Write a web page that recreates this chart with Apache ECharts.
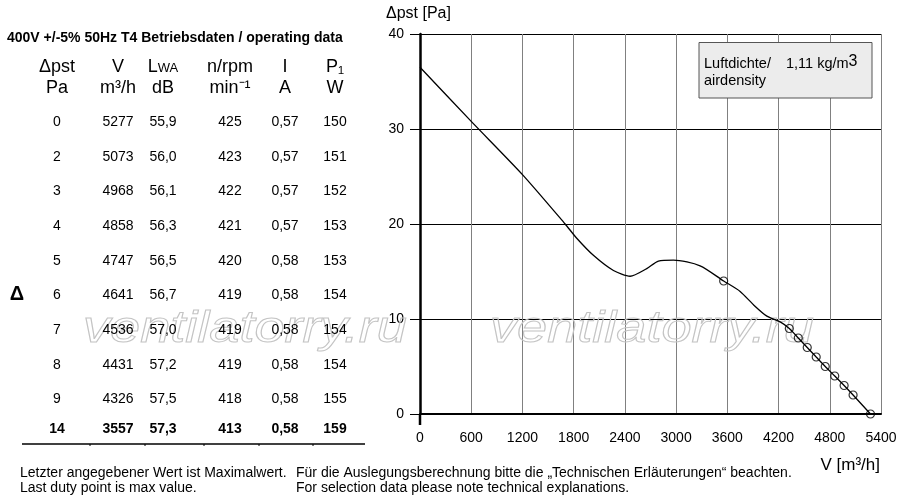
<!DOCTYPE html>
<html><head><meta charset="utf-8">
<script src="https://cdn.jsdelivr.net/npm/echarts@6/dist/echarts.min.js"></script>
<style>html,body{margin:0;padding:0;background:#fff}#c{width:900px;height:500px}</style>
</head><body><div id="c"></div>
<script>
// ---- data ----
const dpst  = [0, 2, 3, 4, 5, 6, 7, 8, 9, 14];
const flow  = [5277, 5073, 4968, 4858, 4747, 4641, 4536, 4431, 4326, 3557];
const lwa   = ['55,9','56,0','56,1','56,3','56,5','56,7','57,0','57,2','57,5','57,3'];
const rpm   = [425, 423, 422, 421, 420, 419, 419, 419, 418, 413];
const amps  = ['0,57','0,57','0,57','0,57','0,58','0,58','0,58','0,58','0,58','0,58'];
const power = [150, 151, 152, 153, 153, 154, 154, 154, 155, 159];

const curveV = [0, 600, 1200, 1700, 1836, 2031, 2266, 2461, 2656, 2793, 2969, 3281, 3557, 3750, 3906, 4063, 4219, 4326, 4431, 4536, 4641, 4747, 4858, 4968, 5073, 5277];
const curveP = [36.5, 30.8, 25.2, 20.0, 18.5, 16.7, 15.1, 14.5, 15.3, 16.1, 16.2, 15.6, 14.0, 12.9, 11.5, 10.3, 9.7, 9, 8, 7, 6, 5, 4, 3, 2, 0];

const titleText = '400V +/-5% 50Hz T4 Betriebsdaten / operating data';
const head1 = ['Δpst', 'V', '{l|L}{s|WA}', 'n/rpm', 'I', 'P₁'];
const head2 = ['Pa', 'm³/h', 'dB', 'min⁻¹', 'A', 'W'];
const foot = [
  ['Letzter angegebener Wert ist Maximalwert.', 'Für die Auslegungsberechnung bitte die „Technischen Erläuterungen“ beachten.'],
  ['Last duty point is max value.', 'For selection data please note technical explanations.']
];
const densityText = ['Luftdichte/', '1,11 kg/m{sup|3}', 'airdensity'];
const yTitle = 'Δpst [Pa]';
const xTitle = 'V [m³/h]';

// ---- layout ----
const FF = '"Liberation Sans", Arial, Helvetica, sans-serif';
const colX = [57, 118, 163, 230, 285, 335];
const rowY = i => i < 9 ? 122 + i * 34.7 : 429;

const g = [];
function txt(s, x, y, size, opt) {
  opt = opt || {};
  g.push({type:'text', z: 10, style:Object.assign({text:s, x:x, y:y, fill:'#000',
    font:(opt.bold?'bold ':'') + size + 'px ' + FF, align: opt.align || 'center', verticalAlign:'middle'}, opt.extra || {})});
}
txt(titleText, 7, 38, 14, {bold:true, align:'left'});
head1.forEach((h, i) => txt(h, colX[i], 67, 18, {extra: i === 2 ? {rich:{l:{fontSize:18, fontFamily:FF}, s:{fontSize:13, fontFamily:FF, padding:[3,0,0,0]}}} : {}}));
head2.forEach((h, i) => txt(h, colX[i], 88, 18));
dpst.forEach((d, i) => {
  const b = i === dpst.length - 1;
  [d, flow[i], lwa[i], rpm[i], amps[i], power[i]].forEach((v, j) => txt(String(v), colX[j], rowY(i), 14, {bold:b}));
});
txt('Δ', 17, 294, 20, {bold:true});
g.push({type:'line', shape:{x1:22, y1:444, x2:365, y2:444}, style:{stroke:'#000', lineWidth:1.5}});
[90, 145, 204, 259, 313].forEach(x => g.push({type:'line', shape:{x1:x, y1:444, x2:x, y2:446}, style:{stroke:'#000', lineWidth:1}}));
txt(foot[0][0], 20, 473, 14, {align:'left'});
txt(foot[0][1], 296, 473, 14, {align:'left'});
txt(foot[1][0], 20, 488, 14, {align:'left'});
txt(foot[1][1], 296, 488, 14, {align:'left'});
// axis titles
txt(yTitle, 386, 14, 16, {align:'left'});
txt(xTitle, 880, 465, 17, {align:'right'});
// density box
g.push({type:'rect', z: 9, shape:{x:699, y:42.5, width:173, height:55.5}, style:{fill:'#ececec', stroke:'#555', lineWidth:1}});
txt(densityText[0], 704, 64, 14.5, {align:'left'});
txt(densityText[1], 786, 64, 14.5, {align:'left', extra:{rich:{sup:{fontSize:16, fontFamily:FF, padding:[0,0,5,0]}}}});
txt(densityText[2], 704, 81, 14.5, {align:'left'});
// watermark
[83, 490].forEach(x => g.push({type:'text', z: 1, x:x, y:330, scaleX:1.23,
  style:{text:'ventilatorry.ru', x:0, y:0, font:'italic 44px ' + FF, fill:'rgba(0,0,0,0)', stroke:'#c4c4c4', lineWidth:1, align:'left', verticalAlign:'middle'}}));

const chart = echarts.init(document.getElementById('c'), null, {renderer:'canvas'});
const option = {
  animation:false,
  backgroundColor:'#fff',
  grid:{left:420, top:34, right:19, bottom:86, containLabel:false},
  xAxis:{type:'value', min:0, max:5400, interval:600,
    axisLine:{show:true, onZero:false, lineStyle:{color:'#000', width:2}},
    axisTick:{show:false},
    axisLabel:{color:'#000', fontSize:14, fontFamily:FF, margin:17, formatter: v => String(v)},
    splitLine:{show:true, lineStyle:{color:'#808080', width:1}}},
  yAxis:{type:'value', min:0, max:40, interval:10,
    axisLine:{show:true, onZero:false, lineStyle:{color:'#000', width:2.5}},
    axisTick:{show:true, length:10, lineStyle:{color:'#000', width:1}},
    axisLabel:{color:'#000', fontSize:14, fontFamily:FF, margin:16, formatter: v => String(v)},
    splitLine:{show:true, lineStyle:{color:'#000', width:1}}},
  graphic:g,
  series:[
    {type:'line', data:curveV.map((v, i) => [v, curveP[i]]), smooth:0.25, symbol:'none',
     lineStyle:{color:'#000', width:1.3}, z:5},
    {type:'scatter', data:flow.map((v, i) => [v, dpst[i]]), symbol:'circle', symbolSize:8,
     itemStyle:{color:'rgba(0,0,0,0)', borderColor:'#000', borderWidth:1.2}, z:6}
  ]
};
chart.setOption(option);
// y-axis line continues a little below the origin
const o = chart.convertToPixel({gridIndex:0}, [0, 0]);
g.push({type:'line', z:4, shape:{x1:o[0], y1:o[1], x2:o[0], y2:o[1] + 11}, style:{stroke:'#000', lineWidth:2.5}});
chart.setOption({graphic:g}, {replaceMerge:['graphic']});
</script></body></html>
